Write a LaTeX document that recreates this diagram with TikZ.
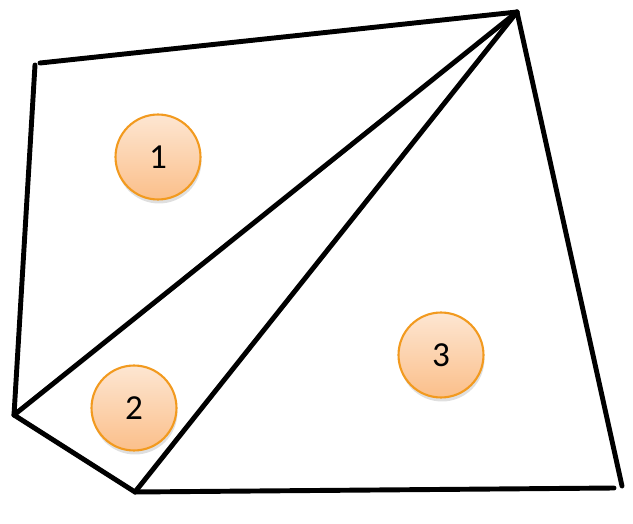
\documentclass[tikz,border=0pt]{standalone}
\usepackage{fontspec}
\setmainfont{Carlito}
\usetikzlibrary{shadows}
\definecolor{edgeorange}{HTML}{F29A1F}
\definecolor{peachtop}{HTML}{FDE6D2}
\definecolor{peachbot}{HTML}{FBBF8A}
\tikzset{
  region/.style={circle, draw=edgeorange, line width=1.2pt, minimum size=1.7cm, inner sep=0pt,
    top color=peachtop, bottom color=peachbot,
    drop shadow={opacity=0.25, shadow xshift=0.02cm, shadow yshift=-0.08cm},
    font=\fontsize{20}{22}\selectfont},
  side/.style={line width=2.8pt, line cap=round, line join=miter}
}
\begin{document}
\begin{tikzpicture}[x=0.02cm, y=-0.02cm]
			\useasboundingbox (0,0) rectangle (633,524);
			\coordinate (tl) at (40,63);
			\coordinate (tl2) at (35,65);
			\coordinate (apex) at (517,12);
			\coordinate (br) at (622,486);
			\coordinate (br2) at (614,488);
			\coordinate (bot) at (135,492);
			\coordinate (lft) at (14,415);
			
			\draw[side] (tl) -- (apex);
			\draw[side] (tl2) -- (lft);
			\draw[side] (apex) -- (br);
			\draw[side] (bot) -- (br2);
			\draw[side] (lft) -- (bot);
			\draw[side] (lft) -- (apex);
			\draw[side] (bot) -- (apex);
			
			\node[region] (r1) at (158,157) {1};
			\node[region] (r2) at (134,408) {2};
			\node[region] (r3) at (441,355) {3};
		\end{tikzpicture}
\end{document}
